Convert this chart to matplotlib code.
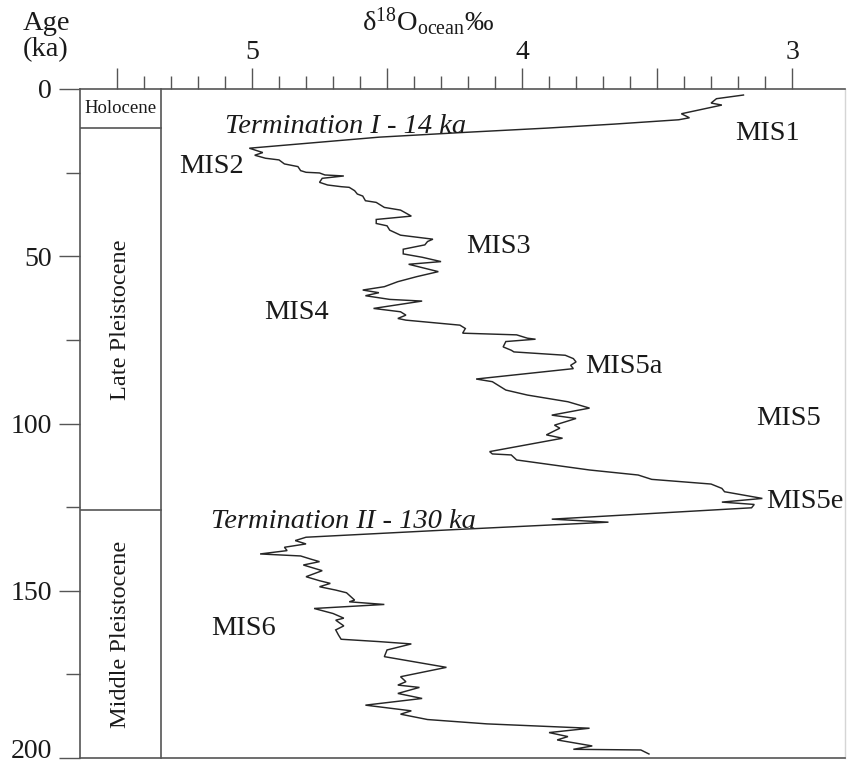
import matplotlib
matplotlib.use("Agg")
import matplotlib.pyplot as plt
from matplotlib.ticker import FixedLocator, FuncFormatter
import matplotlib.transforms as mtransforms
import numpy as np

plt.rcParams['font.family'] = ['Liberation Serif', 'DejaVu Serif']
plt.rcParams['mathtext.fontset'] = 'custom'
plt.rcParams['mathtext.rm'] = 'Liberation Serif'
plt.rcParams['mathtext.it'] = 'Liberation Serif:italic'

# ---- data ----
age_ka = [1.8, 2.9, 4.2, 4.8, 7.4, 8.6, 9.2, 10.5, 11.7, 13.0, 14.4,
          17.7, 19.0, 19.8, 20.7, 21.2, 22.4, 23.2, 24.4, 24.9, 25.1, 25.7, 26.0,
          26.7, 27.9, 28.7, 29.2, 29.4, 30.4, 31.4, 32.0, 33.4, 33.9, 35.4, 36.2,
          38.0, 39.0, 40.2, 40.9, 42.2, 43.7, 44.3, 44.9, 45.6, 46.6, 47.9, 49.3,
          50.3, 51.6, 52.4, 54.6, 56.1, 57.6, 59.1, 60.1, 60.9, 61.8, 62.9, 63.4,
          65.6, 66.6, 67.6, 68.6, 69.1, 70.6, 71.6, 73.0, 73.5, 74.5, 74.8, 75.5,
          77.1, 78.1, 78.6, 79.6, 80.6, 81.6, 82.6, 83.6, 86.7, 87.5, 90.0, 91.5,
          93.5, 95.4, 97.5, 98.5, 100.5, 101.4, 103.4, 104.4, 108.4, 109.1, 109.4,
          110.9, 111.9, 113.9, 115.4, 116.7, 118.1, 119.4, 120.4, 122.4, 123.5,
          124.2, 125.2, 128.6, 129.5, 131.8, 134.0, 135.0, 136.0, 137.0, 138.0,
          139.0, 139.6, 140.6, 141.3, 142.3, 144.0, 145.8, 147.0, 147.8, 148.8,
          149.8, 150.6, 152.8, 153.3, 154.1, 155.3, 156.8, 158.2, 158.8, 160.5,
          161.7, 163.2, 164.5, 165.2, 165.9, 167.7, 169.7, 171.5, 172.9, 175.7,
          177.2, 178.2, 178.9, 180.7, 182.2, 184.2, 185.9, 186.9, 188.5, 189.8,
          190.6, 191.1, 192.4, 193.6, 194.6, 196.4, 197.4, 197.6, 198.8]
d18o_ocean = [3.18, 3.28, 3.30, 3.26, 3.41, 3.38, 3.42, 3.66, 3.91, 4.22, 4.53,
              5.01, 4.96, 4.99, 4.95, 4.90, 4.88, 4.83, 4.82, 4.80, 4.75, 4.73, 4.66,
              4.74, 4.75, 4.72, 4.67, 4.64, 4.62, 4.61, 4.59, 4.58, 4.54, 4.51, 4.45,
              4.41, 4.54, 4.54, 4.50, 4.49, 4.45, 4.39, 4.33, 4.35, 4.36, 4.44, 4.44,
              4.37, 4.30, 4.42, 4.31, 4.39, 4.46, 4.51, 4.59, 4.53, 4.58, 4.49, 4.37,
              4.55, 4.45, 4.43, 4.46, 4.43, 4.23, 4.21, 4.22, 4.02, 3.98, 3.95, 4.06,
              4.07, 4.04, 4.03, 3.84, 3.81, 3.80, 3.82, 3.81, 4.17, 4.11, 4.06, 3.98,
              3.83, 3.75, 3.89, 3.80, 3.88, 3.86, 3.91, 3.85, 4.12, 4.11, 4.04,
              4.02, 3.93, 3.75, 3.57, 3.52, 3.30, 3.26, 3.25, 3.11, 3.26,
              3.14, 3.15, 3.89, 3.68, 4.27, 4.80, 4.84, 4.80, 4.88, 4.87,
              4.97, 4.82, 4.78, 4.75, 4.81, 4.74, 4.80, 4.75, 4.71, 4.75,
              4.69, 4.65, 4.62, 4.64, 4.51, 4.77, 4.70, 4.66, 4.69, 4.66,
              4.69, 4.68, 4.67, 4.53, 4.41, 4.50, 4.51, 4.38, 4.28, 4.45,
              4.43, 4.46, 4.38, 4.46, 4.37, 4.58, 4.41, 4.45, 4.35, 4.13,
              3.90, 3.75, 3.90, 3.83, 3.87, 3.74, 3.81, 3.56, 3.53]

strat_names = ['Holocene', 'Late Pleistocene', 'Middle Pleistocene']
strat_bounds = [0, 11.7, 126, 200]

mis_labels = ['MIS1', 'MIS2', 'MIS3', 'MIS4', 'MIS5a', 'MIS5', 'MIS5e', 'MIS6']
mis_x = [3.211, 5.270, 4.207, 4.956, 3.767, 3.133, 3.096, 5.152]
mis_age = [15.2, 25.1, 49.0, 68.8, 84.9, 100.4, 125.3, 163.2]

term_labels = ['Termination I - 14 ka', 'Termination II - 130 ka']
term_x = [5.100, 5.152]
term_age = [13.2, 131.3]

x_major = [5.5, 5.0, 4.5, 4.0, 3.5, 3.0]
x_minor = [round(v, 1) for v in np.arange(3.0, 5.55, 0.1)]
y_major = [0, 50, 100, 150, 200]
y_minor = [25, 75, 125, 175]

# ---- figure ----
W, H = 847, 764
fig = plt.figure(figsize=(W / 100, H / 100), dpi=100)
fig.patch.set_facecolor('white')
ax = fig.add_axes([80 / W, 6 / H, 765 / W, 669 / H])

line_c = '#262626'
axis_c = '#555555'

ax.plot(d18o_ocean, age_ka, color=line_c, lw=1.05, solid_joinstyle='miter')
ax.set_xlim(5.637, 2.804)
ax.set_ylim(200, 0)

ax.xaxis.tick_top()
ax.xaxis.set_major_locator(FixedLocator(x_major))
ax.xaxis.set_minor_locator(FixedLocator([v for v in x_minor if v not in x_major]))
ax.xaxis.set_major_formatter(FuncFormatter(lambda v, p: f'{v:g}' if abs(v - round(v)) < 1e-6 else ''))
ax.tick_params(axis='x', which='major', direction='out', length=15, width=1.0,
               color=axis_c, labelsize=20, pad=2, labelcolor='#1a1a1a')
ax.tick_params(axis='x', which='minor', direction='out', length=9.5, width=1.0, color=axis_c)

ax.yaxis.set_major_locator(FixedLocator(y_major))
ax.yaxis.set_minor_locator(FixedLocator(y_minor))
ax.tick_params(axis='y', which='major', direction='out', length=15, width=1.0,
               color=axis_c, labelsize=20, pad=5, labelcolor='#1a1a1a')
ax.tick_params(axis='y', which='minor', direction='out', length=10, width=1.0, color=axis_c)

for s in ['left', 'top', 'bottom']:
    ax.spines[s].set_color(axis_c)
    ax.spines[s].set_linewidth(1.2)
ax.spines['right'].set_color('#d5d5d5')
ax.spines['right'].set_linewidth(1.0)

# stratigraphic column
col_w = 81 / 765
ytr = ax.get_yaxis_transform()
ax.plot([col_w, col_w], [strat_bounds[0], strat_bounds[-1]], transform=ytr,
        color=axis_c, lw=1.2, clip_on=False)
for b in strat_bounds[1:-1]:
    ax.plot([0, col_w], [b, b], transform=ytr, color=axis_c, lw=1.2)
for i, name in enumerate(strat_names):
    mid = (strat_bounds[i] + strat_bounds[i + 1]) / 2
    if i == 0:
        ax.text(col_w / 2, mid, name, transform=ytr, ha='center', va='center',
                fontsize=13.5, color='#1a1a1a')
    else:
        ax.text(col_w / 2, mid, name, transform=ytr, ha='center', va='center',
                fontsize=17.5, rotation=90, color='#1a1a1a')

for lab, x, a in zip(mis_labels, mis_x, mis_age):
    ax.text(x, a, lab, ha='left', va='baseline', fontsize=20.5, color='#1a1a1a')
for lab, x, a in zip(term_labels, term_x, term_age):
    ax.text(x, a, lab, ha='left', va='baseline', fontsize=20.5, style='italic',
            color='#1a1a1a')

fig.text(46 / W, 1 - 23 / H, 'Age', ha='center', va='center', fontsize=20.5, color='#1a1a1a')
fig.text(46 / W, 1 - 50 / H, '(ka)', ha='center', va='center', fontsize=20.5, color='#1a1a1a')
fig.text(428 / W, 1 - 22 / H, r'δ$^{18}$O$_{\mathrm{ocean}}$‰', ha='center', va='center',
         fontsize=20.5, color='#1a1a1a')

# lift the bottom "200" label so it stays inside the canvas
fig.canvas.draw()
for lbl in ax.yaxis.get_majorticklabels():
    if lbl.get_text() == '200':
        lbl.set_transform(lbl.get_transform() +
                          mtransforms.ScaledTranslation(0, 10 / 100, fig.dpi_scale_trans))

fig.savefig('out.png', dpi=100, facecolor='white')
